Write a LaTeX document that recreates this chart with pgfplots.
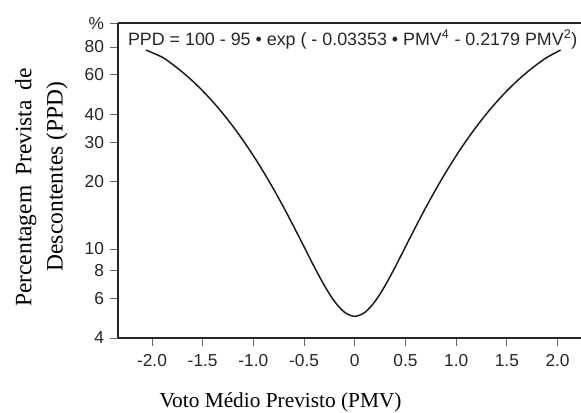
\documentclass[border=0pt]{standalone}
\usepackage{fontspec}
\setmainfont{Liberation Sans}
\newfontfamily\seriffont{Liberation Serif}
\usepackage{pgfplots}
\pgfplotsset{compat=1.18}

\pgfplotstableread{
pmv ppd
-2.06 77.50
-1.9 72.05
-1.8 67.02
-1.7 61.75
-1.6 56.35
-1.5 50.90
-1.4 45.51
-1.3 40.27
-1.2 35.25
-1.1 30.51
-1.0 26.12
-0.9 22.10
-0.8 18.49
-0.7 15.31
-0.6 12.55
-0.5 10.23
-0.4 8.33
-0.3 6.87
-0.2 5.83
-0.1 5.21
0.0 5.00
0.1 5.21
0.2 5.83
0.3 6.87
0.4 8.33
0.5 10.23
0.6 12.55
0.7 15.31
0.8 18.49
0.9 22.10
1.0 26.12
1.1 30.51
1.2 35.25
1.3 40.27
1.4 45.51
1.5 50.90
1.6 56.35
1.7 61.75
1.8 67.02
1.9 72.05
2.03 77.50
}\ppdtable

\begin{document}
\begin{tikzpicture}
\begin{axis}[
  scale only axis,
  width=347.25pt, height=236pt,
  xmin=-2.335, xmax=2.231,
  ymin=4, ymax=102,
  ymode=log,
  axis lines=left,
  axis line style={-, line width=1.6pt, color=black!85},
  tick align=outside,
  major tick length=6pt,
  tick style={line width=0.6pt, color=black!60},
  yminorticks=false,
  xtick={-2,-1.5,-1,-0.5,0,0.5,1,1.5,2},
  xticklabels={-2.0,-1.5,-1.0,-0.5,0,0.5,1.0,1.5,2.0},
  ytick={4,6,8,10,20,30,40,60,80,102},
  yticklabels={4,6,8,10,20,30,40,60,80,\%},
  ticklabel style={font=\fontsize{13}{15}\selectfont, color=black!85},
  xticklabel style={yshift=-3pt},
  yticklabel style={xshift=-1pt},
  clip=false,
]
\addplot[black!90, line width=1.1pt, smooth] table[x=pmv, y=ppd] {\ppdtable};
\draw[line width=1.6pt, black!85] (rel axis cs:0,1) -- (rel axis cs:1,1);
\end{axis}
\node[anchor=base west, inner sep=0pt, font=\fontsize{13.4}{15}\selectfont, color=black!85] at ([shift={(7.3pt,219.75pt)}]current axis.south west)
  {PPD = 100 - 95 • exp ( - 0.03353 • PMV\textsuperscript{4} - 0.2179 PMV\textsuperscript{2})};
\node[anchor=base, inner sep=0pt, rotate=90, font=\seriffont\fontsize{17.6}{20}\selectfont] at ([shift={(-65pt,112.9pt)}]current axis.south west)
  {Percentagem\hspace{3pt} Prevista\hspace{3pt} de};
\node[anchor=base, inner sep=0pt, rotate=90, font=\seriffont\fontsize{17.6}{20}\selectfont] at ([shift={(-41.5pt,121.1pt)}]current axis.south west)
  {Descontentes (PPD)};
\node[anchor=base, inner sep=0pt, font=\seriffont\fontsize{16}{19}\selectfont] at ([shift={(121.9pt,-51.75pt)}]current axis.south west)
  {Voto Médio Previsto (PMV)};
\pgfresetboundingbox
\path[use as bounding box] ([shift={(-88.5pt,-55.5pt)}]current axis.south west) rectangle ([shift={(0pt,17.5pt)}]current axis.north east);
\end{tikzpicture}
\end{document}
